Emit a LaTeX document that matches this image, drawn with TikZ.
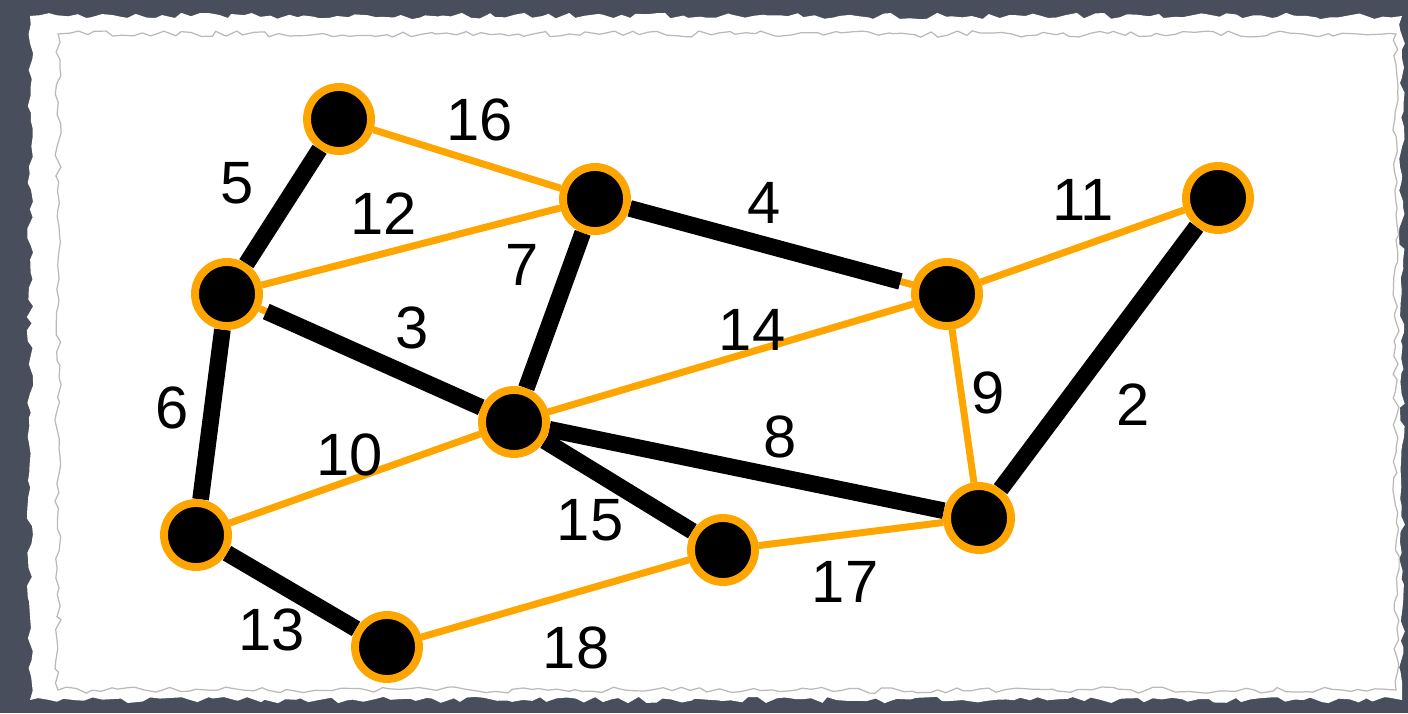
\documentclass[tikz,border=0pt]{standalone}
\usepackage{fontspec}
\setmainfont{Liberation Sans}
\usetikzlibrary{decorations.pathmorphing}
\definecolor{amber}{RGB}{255,165,0}
\definecolor{slate}{RGB}{72,78,92}
\pgfdeclarelayer{paper}
\pgfdeclarelayer{edges}
\pgfsetlayers{paper,edges,main}
\begin{document}
\begin{tikzpicture}
[x=0.02cm, y=-0.02cm,
   vert/.style={shape=circle, fill=black, draw=amber, line width=4.5pt, minimum size=1.28cm, inner sep=0pt},
   rest/.style={draw=amber, line width=4pt},
   tree/.style={draw=black, line width=9.5pt},
   wlab/.style={font=\fontsize{34}{40}\selectfont, inner sep=0pt},
   torn/.style={decorate, decoration={random steps, segment length=5pt, amplitude=1.8pt}}]
\pgfmathsetseed{7}
\useasboundingbox (0,0) rectangle (1408,713);
% paper
\begin{pgfonlayer}{paper}
\fill[slate] (0,0) rectangle (1408,713);
\fill[white, torn] (30,16) rectangle (1402,700);
\draw[gray!55, line width=0.7pt, torn] (58,34) rectangle (1396,690);
\end{pgfonlayer}
% vertices
\node[vert] (A) at (339,119) {};
\node[vert] (B) at (595,199) {};
\node[vert] (C) at (1218,198) {};
\node[vert] (D) at (227,294) {};
\node[vert] (E) at (947,294) {};
\node[vert] (F) at (514,422) {};
\node[vert] (G) at (196,535) {};
\node[vert] (H) at (979,518) {};
\node[vert] (I) at (723,550) {};
\node[vert] (J) at (387,647) {};
% edges
\begin{pgfonlayer}{edges}
\foreach \u/\v in {A/B, D/B, E/C, F/E, E/H, G/F, I/H, J/I, D/F, B/E}
  \draw[rest] (\u) -- (\v);
\foreach \u/\v in {A/D, B/F, H/C, D/G, F/H, F/I, G/J}
  \draw[tree] (\u) -- (\v);
\draw[tree, shorten >=7pt] (B) -- (E);
\draw[tree, shorten <=4pt] (D) -- (F);
\end{pgfonlayer}
% weights
\node[wlab] (w16) at (480,120) {16};
\node[wlab] (w5) at (237,183) {5};
\node[wlab] (w12) at (384,214) {12};
\node[wlab] (w4) at (764,203) {4};
\node[wlab] (w7) at (522,265) {7};
\node[wlab] (w11) at (1083,200) {11};
\node[wlab] (w3) at (412,328) {3};
\node[wlab] (w14) at (752,330) {14};
\node[wlab] (w9) at (988,393) {9};
\node[wlab] (w2) at (1133,405) {2};
\node[wlab] (w6) at (172,408) {6};
\node[wlab] (w10) at (350,455) {10};
\node[wlab] (w8) at (780,437) {8};
\node[wlab] (w15) at (590,520) {15};
\node[wlab] (w17) at (845,582) {17};
\node[wlab] (w13) at (272,630) {13};
\node[wlab] (w18) at (576,648) {18};
\end{tikzpicture}
\end{document}
